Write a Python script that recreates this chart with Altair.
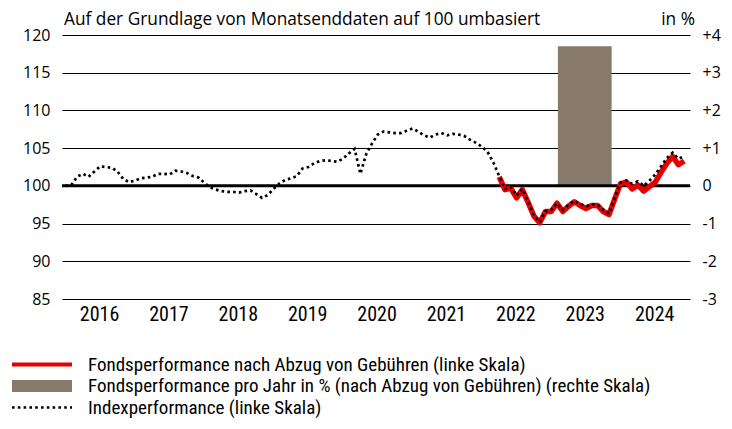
import altair as alt
import pandas as pd

# ---------------- data ----------------
# month index: 0 = end of Dec 2015, 12 = end of Dec 2016, ...
index_values = [
    100.0, 100.1, 101.2, 101.6, 101.2, 101.9, 102.6, 102.5, 102.4, 101.9,
    100.9, 100.5, 100.7, 101.0, 101.1, 101.2, 101.6, 101.6, 101.5, 102.0,
    101.9, 101.7, 101.3, 101.1, 100.4, 99.8, 99.5, 99.3, 99.2, 99.2,
    99.1, 99.3, 99.4, 98.9, 98.4, 98.8, 99.6, 100.3, 100.8, 101.0,
    101.3, 102.3, 102.5, 103.0, 103.3, 103.4, 103.3, 103.2, 103.6, 104.3,
    104.9, 101.6, 104.2, 105.6, 106.8, 107.2, 107.1, 107.0, 107.0, 107.3,
    107.6, 107.2, 106.7, 106.4, 106.8, 107.0, 106.7, 106.9, 106.8, 106.6,
    106.1, 105.7, 105.2, 104.5, 103.1, 101.3, 99.6, 99.9, 98.7, 99.6,
    97.9, 96.1, 95.2, 96.6, 96.8, 97.7, 96.8, 97.5, 98.0, 97.6,
    97.3, 97.5, 97.5, 96.8, 96.3, 98.5, 100.4, 100.7, 100.3, 100.6,
    100.0, 100.7, 101.5, 102.6, 103.7, 104.4, 103.6, 103.9,
]
index_months = list(range(len(index_values)))

fund_start = 75
fund_values = [
    101.2, 99.5, 99.7, 98.4, 99.5, 97.8, 96.0, 95.1, 96.6, 96.6,
    97.7, 96.6, 97.3, 97.9, 97.4, 97.0, 97.4, 97.4, 96.6, 96.2,
    98.3, 100.3, 100.5, 99.6, 100.1, 99.3, 99.9, 100.5, 101.8, 103.0,
    103.9, 102.8, 103.3,
]
fund_months = list(range(fund_start, fund_start + len(fund_values)))

bar_years = [2023]
bar_values = [3.7]

year_labels = [2016, 2017, 2018, 2019, 2020, 2021, 2022, 2023, 2024]
left_ticks = [85, 90, 95, 100, 105, 110, 115, 120]
right_ticks = [-3, -2, -1, 0, 1, 2, 3, 4]

title_text = "Auf der Grundlage von Monatsenddaten auf 100 umbasiert"
unit_text = "in %"
legend_labels = [
    "Fondsperformance nach Abzug von Gebühren (linke Skala)",
    "Fondsperformance pro Jahr in % (nach Abzug von Gebühren) (rechte Skala)",
    "Indexperformance (linke Skala)",
]

# ---------------- tables ----------------
idx_df = pd.DataFrame({"m": index_months, "v": index_values})
fund_df = pd.DataFrame({"m": fund_months, "v": fund_values})
mid = 5.8
half = 4.65
bar_df = pd.DataFrame({
    "year": bar_years,
    "x0": [(y - 2016) * 12 + mid - half for y in bar_years],
    "x1": [(y - 2016) * 12 + mid + half for y in bar_years],
    "v": bar_values,
})
one = pd.DataFrame({"a": [0]})

NORMAL = "Open Sans, Liberation Sans, sans-serif"
NARROW = "Roboto Condensed, Liberation Sans Narrow, Roboto, sans-serif"
RED = "#e60000"
BROWN = "#877a6b"

W, H = 628, 264
xscale = alt.Scale(domain=[-0.6, 108.0], nice=False, zero=False)
yleft = alt.Scale(domain=[85, 120], nice=False, zero=False)
yright = alt.Scale(domain=[-3, 4], nice=False, zero=False)

x_axis = alt.Axis(
    values=[(y - 2016) * 12 + mid for y in year_labels],
    labelExpr="2016 + floor(datum.value / 12)",
    title=None, grid=False, ticks=False, domain=False,
    labelFont=NARROW, labelFontSize=20, labelFontWeight="normal",
    labelColor="#000", labelPadding=5, labelOverlap=False,
)

bars = alt.Chart(bar_df).mark_rect(color=BROWN).encode(
    x=alt.X("x0:Q", scale=xscale, axis=x_axis),
    x2="x1:Q",
    y=alt.Y("v:Q", scale=yright, axis=alt.Axis(
        orient="right", values=right_ticks, title=None, grid=False,
        ticks=False, domain=False, labelFont=NORMAL, labelFontSize=16,
        labelColor="#000", labelPadding=12, labelOverlap=False,
        labelExpr="datum.value > 0 ? '+' + datum.value : '' + datum.value")),
    y2=alt.datum(0),
)

left_axis = alt.Axis(
    values=left_ticks, title=None, grid=True, gridColor="#000",
    gridWidth=1, gridOpacity=1, ticks=False, domain=False,
    labelFont=NORMAL, labelFontSize=16, labelColor="#000",
    labelPadding=12, labelOverlap=False,
)

base_rule = alt.Chart(one).mark_rule(color="#000", strokeWidth=3).encode(
    y=alt.datum(100, scale=yleft, axis=left_axis),
)

fund_line = alt.Chart(fund_df).mark_line(
    color=RED, strokeWidth=5.5, strokeJoin="round", strokeCap="butt"
).encode(
    x=alt.X("m:Q", scale=xscale, axis=x_axis),
    y=alt.Y("v:Q", scale=yleft, axis=left_axis),
)

index_line = alt.Chart(idx_df).mark_line(
    color="#000", strokeWidth=2.7, strokeDash=[2.6, 3.2], strokeCap="butt"
).encode(
    x=alt.X("m:Q", scale=xscale, axis=x_axis),
    y=alt.Y("v:Q", scale=yleft, axis=left_axis),
)

left_group = alt.layer(base_rule, fund_line, index_line)

title_mark = alt.Chart(one).mark_text(
    text=title_text, align="left", baseline="alphabetic",
    font=NORMAL, fontSize=17.3, color="#000"
).encode(x=alt.value(2), y=alt.value(-10))

unit_mark = alt.Chart(one).mark_text(
    text=unit_text, align="right", baseline="alphabetic",
    font=NORMAL, fontSize=17.3, color="#000"
).encode(x=alt.value(633), y=alt.value(-10))

leg_y = [329.5, 351, 372.5]
leg_red = alt.Chart(one).mark_rule(color=RED, strokeWidth=4).encode(
    x=alt.value(-50), x2=alt.value(10), y=alt.value(leg_y[0]))
leg_bar = alt.Chart(one).mark_rect(color=BROWN).encode(
    x=alt.value(-50), x2=alt.value(10),
    y=alt.value(leg_y[1] - 6), y2=alt.value(leg_y[1] + 6))
leg_dot = alt.Chart(one).mark_rule(
    color="#000", strokeWidth=2.7, strokeDash=[2.6, 3.2]).encode(
    x=alt.value(-50), x2=alt.value(10), y=alt.value(leg_y[2]))
leg_texts = [
    alt.Chart(one).mark_text(
        text=lab, align="left", baseline="middle", font=NARROW,
        fontSize=19, color="#000"
    ).encode(x=alt.value(26), y=alt.value(yy))
    for lab, yy in zip(legend_labels, leg_y)
]

chart = alt.layer(
    bars, left_group, title_mark, unit_mark, leg_red, leg_bar, leg_dot,
    *leg_texts
).resolve_scale(y="independent").properties(
    width=W, height=H,
    autosize=alt.AutoSizeParams(type="none"),
    padding={"left": 54, "top": 27, "right": 32, "bottom": 120},
).configure_view(stroke=None)

chart.save("out.html", embed_options={"renderer": "svg", "actions": False})
